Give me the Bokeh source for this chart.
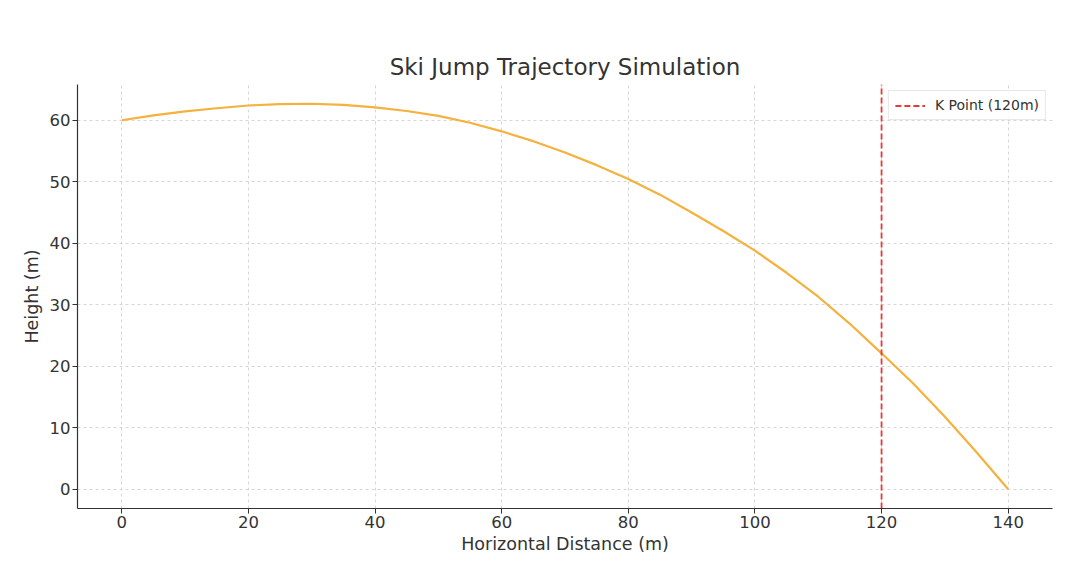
from bokeh.plotting import figure
from bokeh.models import Range1d, Legend, LegendItem, ColumnDataSource, FixedTicker
from bokeh.embed import file_html
from bokeh.resources import INLINE

# data
distance_m = [0, 5, 10, 15, 20, 25, 30, 35, 40, 45, 50, 55, 60, 65, 70,
              75, 80, 85, 90, 95, 100, 105, 110, 115, 120, 125, 130, 135, 140]
height_m = [60.0, 60.8, 61.45, 61.95, 62.4, 62.62, 62.68, 62.5, 62.1, 61.5, 60.7, 59.6, 58.2, 56.6, 54.75,
            52.7, 50.45, 47.9, 45.0, 42.0, 38.8, 35.2, 31.3, 26.9, 22.1, 17.2, 11.8, 6.0, 0.0]
k_point = 120
k_label = "K Point (120m)"
x_ticks = [0, 20, 40, 60, 80, 100, 120, 140]
y_ticks = [0, 10, 20, 30, 40, 50, 60]

FONT = "DejaVu Sans"
TXT = "#333333"

xpad = (max(distance_m) - min(distance_m)) * 0.05
ypad = (max(height_m) - min(height_m)) * 0.05
x_lo, x_hi = min(distance_m) - xpad, max(distance_m) + xpad
y_lo, y_hi = min(height_m) - ypad, max(height_m) + ypad

p = figure(
    frame_width=975, frame_height=424,
    x_range=Range1d(x_lo, x_hi),
    y_range=Range1d(y_lo, y_hi),
    output_backend="svg", toolbar_location=None,
    min_border_left=77, min_border_top=84, min_border_right=20, min_border_bottom=50,
)
p.background_fill_color = "white"
p.border_fill_color = "white"
p.outline_line_color = None

p.title.text = "Ski Jump Trajectory Simulation"
p.title.align = "center"
p.title.text_font = FONT
p.title.text_font_size = "23px"
p.title.text_font_style = "normal"
p.title.text_color = TXT

for ax in (p.xaxis[0], p.yaxis[0]):
    ax.axis_line_color = TXT
    ax.axis_line_width = 1.2
    ax.major_tick_line_color = TXT
    ax.major_tick_out = 5
    ax.major_tick_in = 0
    ax.minor_tick_line_color = None
    ax.major_label_text_font = FONT
    ax.major_label_text_font_size = "16.5px"
    ax.major_label_text_color = TXT
    ax.major_label_standoff = 2
    ax.axis_label_text_font = FONT
    ax.axis_label_text_font_size = "17.5px"
    ax.axis_label_text_font_style = "normal"
    ax.axis_label_text_color = TXT

p.xaxis.ticker = FixedTicker(ticks=x_ticks)
p.yaxis.ticker = FixedTicker(ticks=y_ticks)
p.xaxis.axis_label = "Horizontal Distance (m)"
p.yaxis.axis_label = "Height (m)"
p.xaxis.axis_label_standoff = 3
p.yaxis.axis_label_standoff = 5

p.grid.grid_line_color = "#cccccc"
p.grid.grid_line_dash = "3 3"
p.grid.grid_line_width = 0.8

src = ColumnDataSource(dict(x=distance_m, y=height_m))
p.line("x", "y", source=src, line_color="#f5b13d", line_width=2.2)

k_src = ColumnDataSource(dict(x=[k_point, k_point], y=[y_lo, y_hi]))
k_line = p.line("x", "y", source=k_src, line_color="#e53a35", line_dash="6 3", line_width=1.8)

legend = Legend(items=[LegendItem(label=k_label, renderers=[k_line])],
                location="top_right")
legend.label_text_font = FONT
legend.label_text_font_size = "14px"
legend.label_text_color = TXT
legend.border_line_color = "#d0d0d0"
legend.border_line_width = 1
legend.background_fill_alpha = 0.85
legend.glyph_width = 30
legend.glyph_height = 15
legend.padding = 6
legend.margin = 6
legend.spacing = 0
legend.label_standoff = 10
legend.label_height = 15
p.add_layout(legend)

open("out.html", "w").write(file_html(p, INLINE))
